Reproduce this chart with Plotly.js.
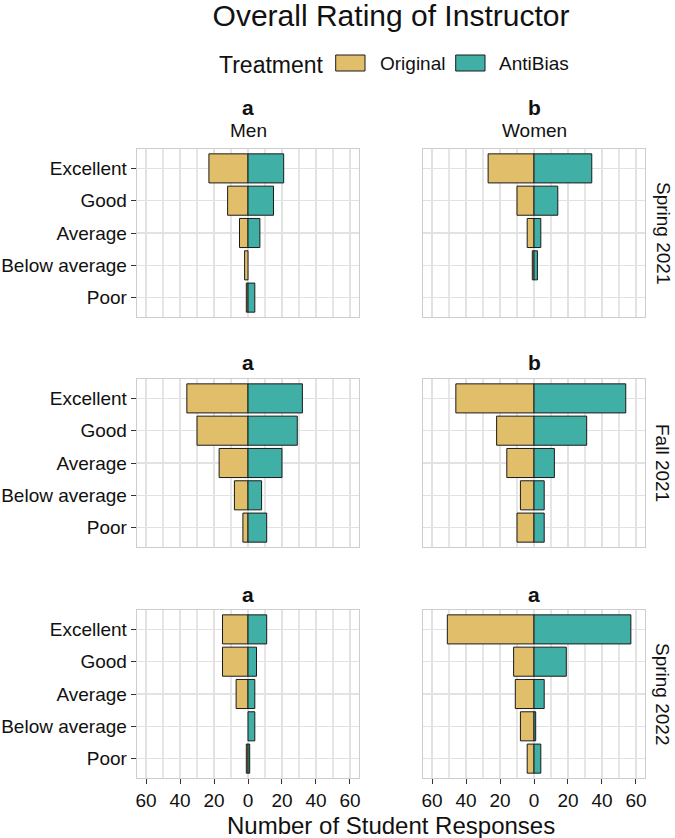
<!DOCTYPE html>
<html>
<head>
<meta charset="utf-8">
<script src="https://cdn.plot.ly/plotly-3.0.1.min.js"></script>
<style>html,body{margin:0;padding:0;background:#fff;}#chart{width:675px;height:838px;}</style>
</head>
<body>
<div id="chart"></div>
<script>
// ---- Data ----
const categories = ['Excellent', 'Good', 'Average', 'Below average', 'Poor'];
const tickValues = [-60, -40, -20, 0, 20, 40, 60];
const tickLabels = ['60', '40', '20', '0', '20', '40', '60'];
const terms = ['Spring 2021', 'Fall 2021', 'Spring 2022'];
const genders = ['Men', 'Women'];
const stripLetters = [['a', 'b'], ['a', 'b'], ['a', 'a']];
const treatments = ['Original', 'AntiBias'];

const menSpring2021Original = [23, 12, 5, 2, 1];
const menSpring2021AntiBias = [21, 15, 7, 0, 4];
const womenSpring2021Original = [27, 10, 4, 1, 0];
const womenSpring2021AntiBias = [34, 14, 4, 2, 0];
const menFall2021Original = [36, 30, 17, 8, 3];
const menFall2021AntiBias = [32, 29, 20, 8, 11];
const womenFall2021Original = [46, 22, 16, 8, 10];
const womenFall2021AntiBias = [54, 31, 12, 6, 6];
const menSpring2022Original = [15, 15, 7, 0, 1];
const menSpring2022AntiBias = [11, 5, 4, 4, 1];
const womenSpring2022Original = [51, 12, 11, 8, 4];
const womenSpring2022AntiBias = [57, 19, 6, 1, 4];

const panelData = [
  [[menSpring2021Original, menSpring2021AntiBias], [womenSpring2021Original, womenSpring2021AntiBias]],
  [[menFall2021Original, menFall2021AntiBias], [womenFall2021Original, womenFall2021AntiBias]],
  [[menSpring2022Original, menSpring2022AntiBias], [womenSpring2022Original, womenSpring2022AntiBias]]
];

// ---- Styles ----
const W = 675, H = 838;
const colors = ['#E1BE6A', '#40B0A6'];
const FONT = 'Liberation Sans, Arial, Helvetica, sans-serif';
const TXT = '#111';
const colDomains = [[136.7 / W, 359.3 / W], [422.7 / W, 645.3 / W]];
const rowPx = [[149, 317], [379, 547], [610, 778]];
const rowDomains = rowPx.map(r => [1 - r[1] / H, 1 - r[0] / H]);
const py = p => 1 - p / H;
const px = p => p / W;

const traces = [];
const layout = {
  width: W, height: H,
  margin: {l: 0, r: 0, t: 0, b: 0},
  paper_bgcolor: '#fff', plot_bgcolor: '#fff',
  font: {family: FONT, color: TXT},
  barmode: 'relative',
  bargap: 0.1,
  showlegend: false,
  title: {
    text: 'Overall Rating of Instructor',
    font: {size: 30, family: FONT, color: TXT},
    x: px(391), xref: 'paper', xanchor: 'center',
    y: py(15), yref: 'container', yanchor: 'middle'
  },
  annotations: [],
  shapes: [],
  hovermode: false
};

let idx = 0;
for (let r = 0; r < 3; r++) {
  for (let c = 0; c < 2; c++) {
    idx++;
    const xa = 'x' + (idx === 1 ? '' : idx);
    const ya = 'y' + (idx === 1 ? '' : idx);
    const [orig, anti] = panelData[r][c];
    [orig, anti].forEach((vals, t) => {
      traces.push({
        type: 'bar', orientation: 'h', name: treatments[t],
        y: categories,
        x: vals.map(v => v === 0 ? null : (t === 0 ? -v : v)),
        xaxis: xa, yaxis: ya,
        marker: {color: colors[t], line: {color: '#1a1a1a', width: 1}}
      });
    });
    const bottom = r === 2, left = c === 0;
    layout['xaxis' + (idx === 1 ? '' : idx)] = {
      domain: colDomains[c], anchor: ya,
      range: [-65.5, 65.5],
      tickmode: 'array', tickvals: tickValues, ticktext: tickLabels,
      showticklabels: bottom, ticks: bottom ? 'outside' : '',
      ticklen: 5, tickcolor: '#333', tickwidth: 1,
      tickfont: {size: 19, family: FONT, color: TXT},
      showgrid: true, gridcolor: '#e2e2e2', gridwidth: 1.2,
      minor: {dtick: 10, tick0: 0, showgrid: true, gridcolor: '#e6e6e6', gridwidth: 1.1},
      zeroline: false,
      showline: true, mirror: true, linecolor: '#cdcdcd', linewidth: 1,
      fixedrange: true
    };
    layout['yaxis' + (idx === 1 ? '' : idx)] = {
      domain: rowDomains[r], anchor: xa,
      type: 'category', categoryorder: 'array', categoryarray: categories,
      range: [4.6, -0.6],
      showticklabels: left, ticks: left ? 'outside' : '',
      ticklen: 5, tickcolor: '#333', tickwidth: 1,
      tickfont: {size: 19, family: FONT, color: TXT},
      showgrid: true, gridcolor: '#e2e2e2', gridwidth: 1.2,
      zeroline: false,
      showline: true, mirror: true, linecolor: '#cdcdcd', linewidth: 1,
      fixedrange: true
    };
    // strip letters
    const cx = (colDomains[c][0] + colDomains[c][1]) / 2;
    const letterY = r === 0 ? 107 : rowPx[r][0] - 16;
    layout.annotations.push({
      text: '<b>' + stripLetters[r][c] + '</b>', xref: 'paper', yref: 'paper',
      x: cx, y: py(letterY), xanchor: 'center', yanchor: 'middle',
      showarrow: false, font: {size: 21, family: FONT, color: TXT}
    });
    if (r === 0) {
      layout.annotations.push({
        text: genders[c], xref: 'paper', yref: 'paper',
        x: cx, y: py(130), xanchor: 'center', yanchor: 'middle',
        showarrow: false, font: {size: 19, family: FONT, color: TXT}
      });
    }
  }
  // row (term) labels
  layout.annotations.push({
    text: terms[r], xref: 'paper', yref: 'paper',
    x: px(663), y: (rowDomains[r][0] + rowDomains[r][1]) / 2,
    xanchor: 'center', yanchor: 'middle', textangle: 90,
    showarrow: false, font: {size: 19, family: FONT, color: TXT}
  });
}

// legend (drawn manually to match key size)
layout.annotations.push({
  text: 'Treatment', xref: 'paper', yref: 'paper',
  x: px(217), y: py(65), xanchor: 'left', yanchor: 'middle',
  showarrow: false, font: {size: 23, family: FONT, color: TXT}
});
const keyX = [335.7, 455.7];
const labelX = [377.5, 497.3];
treatments.forEach((t, i) => {
  layout.shapes.push({
    type: 'rect', xref: 'paper', yref: 'paper',
    x0: px(keyX[i]), x1: px(keyX[i] + 29.3), y0: py(71), y1: py(55),
    fillcolor: colors[i], line: {color: '#1a1a1a', width: 1}
  });
  layout.annotations.push({
    text: t, xref: 'paper', yref: 'paper',
    x: px(labelX[i]), y: py(63.5), xanchor: 'left', yanchor: 'middle',
    showarrow: false, font: {size: 19, family: FONT, color: TXT}
  });
});

// shared x-axis title
layout.annotations.push({
  text: 'Number of Student Responses', xref: 'paper', yref: 'paper',
  x: px(391), y: py(825), xanchor: 'center', yanchor: 'middle',
  showarrow: false, font: {size: 24, family: FONT, color: TXT}
});

Plotly.newPlot('chart', traces, layout, {displayModeBar: false, staticPlot: true});
</script>
</body>
</html>
